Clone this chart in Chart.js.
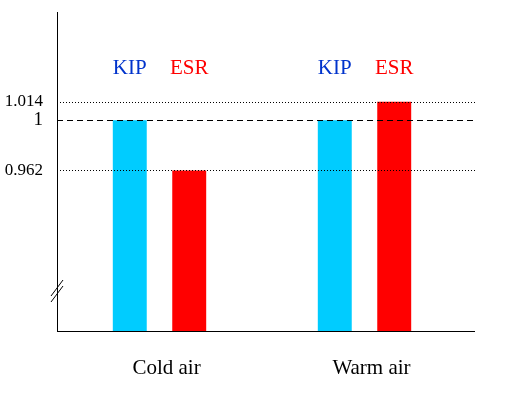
<!DOCTYPE html>
<html>
<head>
<meta charset="utf-8">
<script src="https://cdn.jsdelivr.net/npm/chart.js@4.4.1/dist/chart.umd.min.js"></script>
<style>
    html, body { margin: 0; padding: 0; background: #ffffff; }
    #wrap { width: 508px; height: 393px; }
</style>
</head>
<body>
<div id="wrap"><canvas id="ratioChart"></canvas></div>
<script>
const categories = ['Cold air', 'Warm air'];
const seriesNames = ['KIP', 'ESR'];
const kipValues = [1, 1];
const esrValues = [0.962, 1.014];
const tickValues = [0.962, 1, 1.014];
const tickLabels = ['0.962', '1', '1.014'];

const seriesColors = ['#00ccff', '#ff0000'];
const nameColors = ['#0033cc', '#ff0000'];

// horizontal reference lines + broken-axis marks + series names above bars
const overlayPlugin = {
    id: 'overlay',
    afterDatasetsDraw(chart) {
        const { ctx, chartArea, scales } = chart;
        const y = scales.y;
        const right = chartArea.right + 8;

        ctx.save();
        ctx.strokeStyle = '#000000';
        ctx.lineWidth = 1;
        tickValues.forEach(v => {
            const py = Math.round(y.getPixelForValue(v)) + 0.5;
            ctx.setLineDash(v === 1 ? [6, 4] : [1, 2]);
            ctx.beginPath();
            ctx.moveTo(chartArea.left, py);
            ctx.lineTo(right, py);
            ctx.stroke();
        });

        // x axis line
        ctx.setLineDash([]);
        const ay = Math.round(chartArea.bottom) + 0.5;
        ctx.beginPath();
        ctx.moveTo(chartArea.left, ay);
        ctx.lineTo(right, ay);
        ctx.stroke();

        // axis break marks
        const bx = chartArea.left;
        const by = chartArea.bottom - 40;
        [-3, 3].forEach(d => {
            ctx.beginPath();
            ctx.moveTo(bx - 6, by + 8 + d);
            ctx.lineTo(bx + 6, by - 8 + d);
            ctx.stroke();
        });

        // series names over each bar
        ctx.font = '21px "Liberation Serif", "Times New Roman", serif';
        ctx.textAlign = 'center';
        ctx.textBaseline = 'middle';
        chart.data.datasets.forEach((ds, i) => {
            const meta = chart.getDatasetMeta(i);
            ctx.fillStyle = nameColors[i];
            meta.data.forEach(bar => {
                ctx.fillText(ds.label, bar.x, 68);
            });
        });
        ctx.restore();
    }
};

new Chart(document.getElementById('ratioChart').getContext('2d'), {
    type: 'bar',
    data: {
        labels: categories,
        datasets: [{
            label: seriesNames[0],
            data: kipValues,
            backgroundColor: seriesColors[0],
            borderWidth: 0,
            categoryPercentage: 0.58,
            barPercentage: 0.571
        }, {
            label: seriesNames[1],
            data: esrValues,
            backgroundColor: seriesColors[1],
            borderWidth: 0,
            categoryPercentage: 0.58,
            barPercentage: 0.571
        }]
    },
    options: {
        responsive: true,
        maintainAspectRatio: false,
        animation: false,
        layout: {
            padding: { top: 12, right: 41, bottom: 0, left: 0 }
        },
        plugins: {
            legend: { display: false },
            tooltip: { enabled: false }
        },
        scales: {
            x: {
                grid: { display: false, drawTicks: false },
                border: { display: false },
                afterFit: scale => {
                    scale.height = 62;
                    scale.paddingLeft = 0;
                    scale.paddingRight = 0;
                },
                ticks: {
                    color: '#000000',
                    padding: 25,
                    labelOffset: 7,
                    font: { family: '"Liberation Serif", "Times New Roman", serif', size: 21 }
                }
            },
            y: {
                min: 0.8405,
                max: 1.0818,
                afterFit: scale => {
                    scale.width = 57;
                    scale.paddingTop = 0;
                    scale.paddingBottom = 0;
                },
                afterBuildTicks: scale => {
                    scale.ticks = tickValues.map(v => ({ value: v }));
                },
                grid: { drawOnChartArea: false, drawTicks: false },
                border: { display: true, color: '#000000', width: 1 },
                ticks: {
                    color: '#000000',
                    padding: 14,
                    callback: (value) => tickLabels[tickValues.indexOf(value)],
                    font: ctx => ({
                        family: '"Liberation Serif", "Times New Roman", serif',
                        size: ctx.tick && ctx.tick.value === 1 ? 19 : 17
                    })
                }
            }
        }
    },
    plugins: [overlayPlugin]
});
</script>
</body>
</html>
